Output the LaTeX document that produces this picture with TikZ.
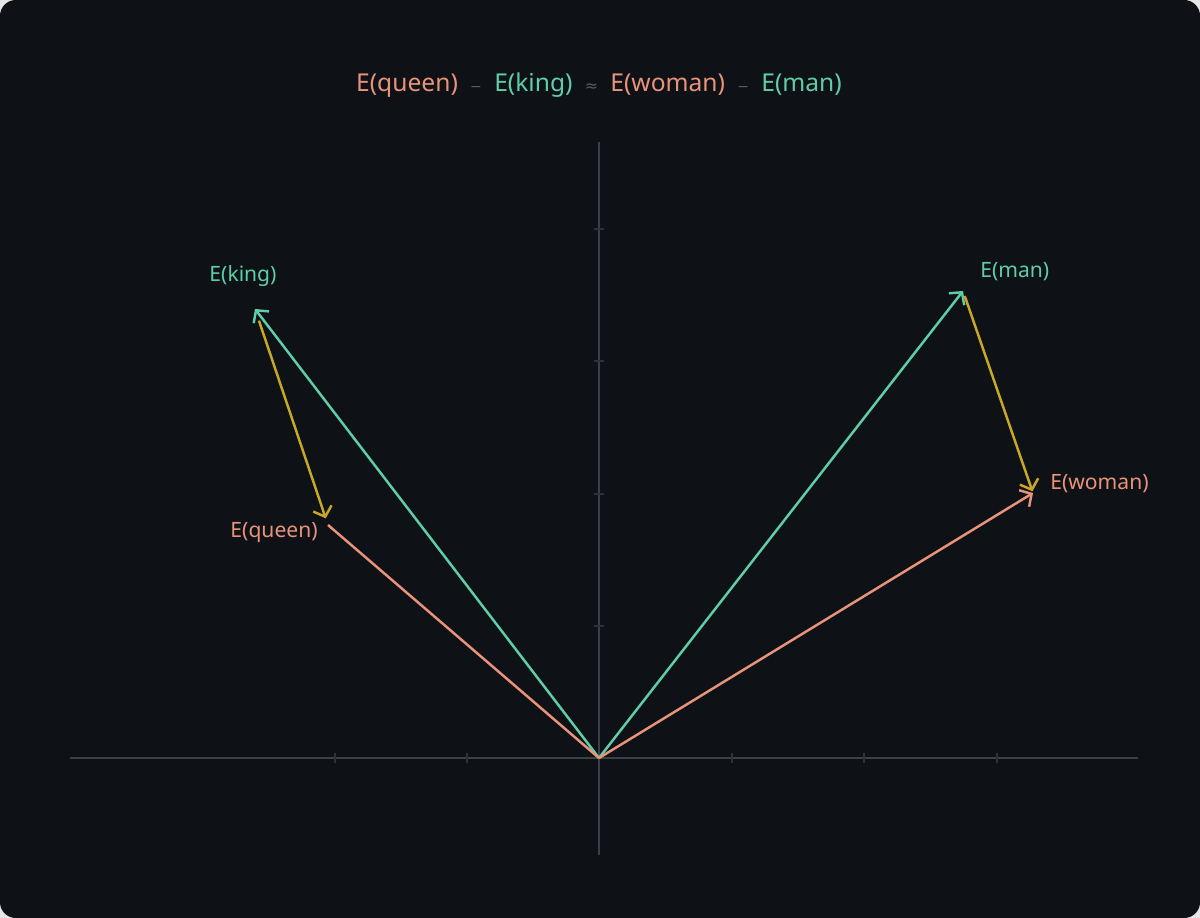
\documentclass[tikz,border=0pt]{standalone}
\usepackage{fontspec}
\setmainfont{Noto Sans}
\newfontfamily\symfont{DejaVu Sans}
\usetikzlibrary{arrows.meta}
\definecolor{bgdark}{HTML}{0E1116}
\definecolor{bgout}{HTML}{E6E6E6}
\definecolor{axisgray}{HTML}{3C4046}
\definecolor{tickgray}{HTML}{2E3238}
\definecolor{teal}{HTML}{5FCDA6}
\definecolor{salmon}{HTML}{E8937A}
\definecolor{gold}{HTML}{C9A727}
\definecolor{opgray}{HTML}{5A5E64}
\begin{document}
\begin{tikzpicture}[x=0.02cm,y=-0.02cm]
\tikzset{vec/.style={line width=1.4pt,-{Straight Barb[length=5pt,width=11pt]}},
 diff/.style={vec,gold},
 lbl/.style={inner sep=0pt,font=\fontsize{12}{14}\selectfont},
 axis/.style={axisgray,line width=0.9pt},
 tick/.style={tickgray,line width=1.2pt}}
% Draw the background
\useasboundingbox (0,0) rectangle (1200,918);
\fill[bgout] (0,0) rectangle (1200,918);
\fill[bgdark,rounded corners=9pt] (0,0) rectangle (1200,918);

% Draw axes
\draw[axis] (70,758) -- (1138,758);
\draw[axis] (599,142) -- (599,855);

% the ticks
\foreach \x in {335,467,732,864,997} {
\draw [tick] (\x,753) -- (\x,763);
}
\foreach \y in {229,361,494,626} {
\draw [tick] (594,\y) -- (604,\y);
}

% the points
\coordinate (O) at (599,758);
\coordinate (K) at (255,309);
\coordinate (Q) at (328,525);
\coordinate (M) at (963,291);
\coordinate (W) at (1033,493);

% the vectors
\draw[vec,teal] (O) -- (K);
\draw[line width=1.4pt,salmon] (O) -- (Q);
\draw[vec,teal] (O) -- (M);
\draw[vec,salmon] (O) -- (W);
\draw[diff,shorten <=7pt,shorten >=4pt] (K) -- (Q);
\draw[diff,shorten <=3pt,shorten >=1pt] (M) -- (W);

% the labels
\node[lbl,teal,anchor=base] (lk) at (243,282) {E(king)};
\node[lbl,salmon,anchor=base east] (lq) at (318,538) {E(queen)};
\node[lbl,teal,anchor=base west] (lm) at (980,278) {E(man)};
\node[lbl,salmon,anchor=base west] (lw) at (1050,490) {E(woman)};

% the title
\node[inner sep=0pt,anchor=base,font=\fontsize{14}{17}\selectfont] (title) at (599,92)
 {\textcolor{salmon}{E(queen)}\enspace\textcolor{opgray}{\symfont\footnotesize−}\enspace\textcolor{teal}{E(king)}\enspace\textcolor{opgray}{\symfont\small≈}\enspace\textcolor{salmon}{E(woman)}\enspace\textcolor{opgray}{\symfont\footnotesize−}\enspace\textcolor{teal}{E(man)}};
\end{tikzpicture}
\end{document}
